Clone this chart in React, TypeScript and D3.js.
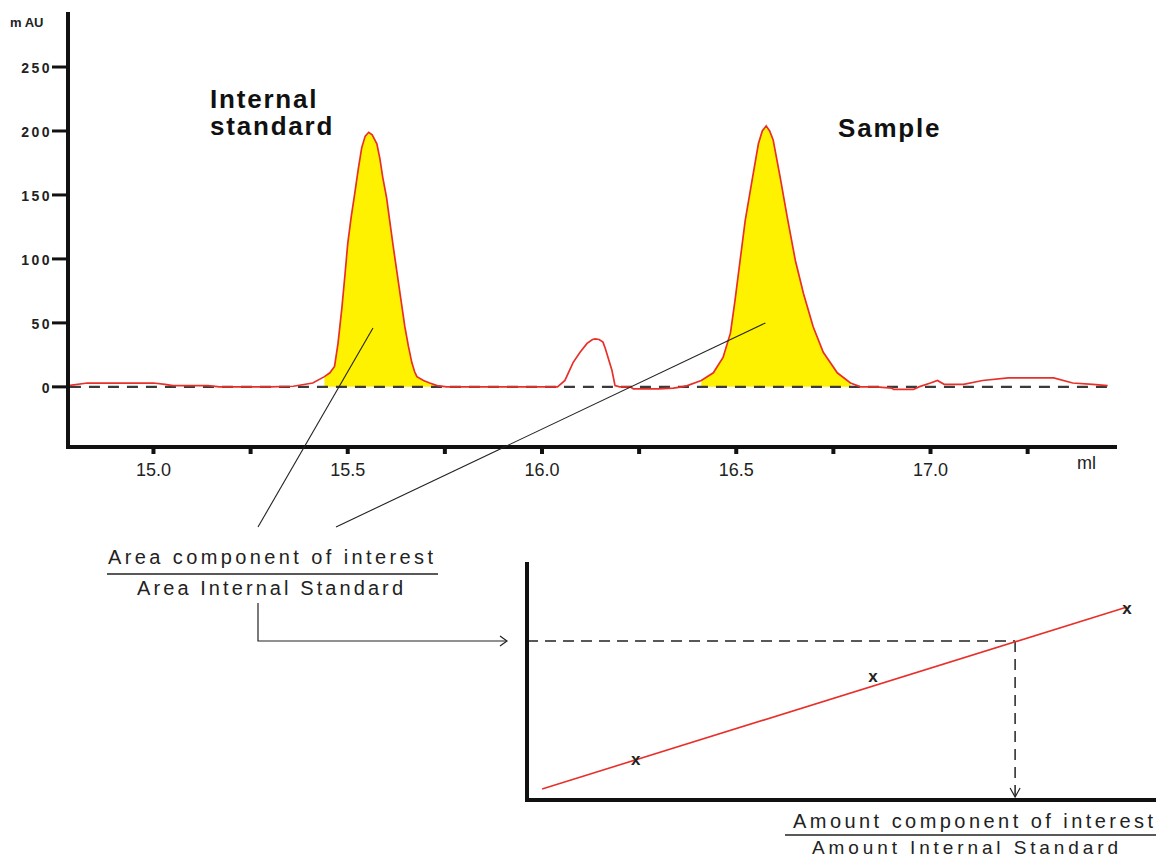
import React from "react";
import * as d3 from "d3";

// ---- Chromatogram data (retention volume in ml, absorbance in mAU) ----
const volume: number[] = [
  14.78, 14.83, 14.9, 15.0, 15.03, 15.05, 15.14, 15.17, 15.3, 15.36, 15.41, 15.44, 15.454, 15.466, 15.475,
  15.485, 15.493, 15.5, 15.509, 15.518, 15.527, 15.536, 15.545, 15.554, 15.563, 15.575, 15.583, 15.59, 15.6,
  15.608, 15.617, 15.626, 15.637, 15.647, 15.656, 15.665, 15.672, 15.678, 15.695, 15.711, 15.73, 15.755, 15.85,
  15.95, 16.04, 16.059, 16.08, 16.098, 16.116, 16.13, 16.137, 16.147, 16.157, 16.163, 16.17, 16.18, 16.188,
  16.2, 16.227, 16.235, 16.3, 16.338, 16.36, 16.374, 16.41, 16.441, 16.466, 16.485, 16.497, 16.51, 16.523,
  16.541, 16.557, 16.567, 16.577, 16.586, 16.595, 16.613, 16.631, 16.652, 16.673, 16.698, 16.724, 16.76,
  16.794, 16.82, 16.86, 16.9, 16.905, 16.956, 16.97, 17.0, 17.018, 17.035, 17.085, 17.134, 17.2, 17.317,
  17.366, 17.418, 17.456,
];
const absorbance: number[] = [
  1, 3, 3, 3, 2, 1, 1, 0, 0, 0.5, 3, 8, 11, 16, 34,
  62, 88, 112, 133, 151, 170, 187, 196, 199, 197, 190, 178, 164, 148,
  130, 110, 91, 68, 47, 32, 19, 12, 8, 5, 3, 1, 0, 0,
  0, 0, 5, 19, 27, 34, 37, 37.5, 37, 35, 30, 23, 13, 1,
  0, 0, -1.5, -1.5, -1, 0, 1, 5, 11, 23, 42, 68, 99, 130,
  162, 190, 200, 204, 200, 193, 164, 133, 99, 73, 47, 27, 11,
  3, 0, 0, -1, -2, -2, 0, 3, 5, 2, 2, 5, 7, 7,
  3, 2, 1,
];

// integrated (yellow) peak windows [start, end] in ml
const peakWindows: [number, number][] = [
  [15.43, 15.74],
  [16.38, 16.8],
];

const yTicks: number[] = [0, 50, 100, 150, 200, 250];
const xMinorTicks: number[] = [15.0, 15.25, 15.5, 15.75, 16.0, 16.25, 16.5, 16.75, 17.0, 17.25];
const xLabelTicks: number[] = [15.0, 15.5, 16.0, 16.5, 17.0];

// ---- Calibration data (ratio amount vs ratio area) ----
const calAmount: number[] = [1.73, 5.5, 9.54];
const calArea: number[] = [1.67, 5.13, 7.96];
const fitAmount: number[] = [0.24, 9.54];
const fitArea: number[] = [0.46, 8.04];
const unknownAmount = 7.76;
const unknownArea = 6.63;

const FONT = "'Liberation Sans', Arial, Helvetica, sans-serif";

export default function App() {
  const x = d3.scaleLinear().domain([14.78, 17.48]).range([68, 1117]);
  const y = d3.scaleLinear().domain([-47, 293]).range([447, 12]);

  const pts = volume.map((v, i) => [v, absorbance[i]] as [number, number]);
  const line = d3
    .line<[number, number]>()
    .x((d) => x(d[0]))
    .y((d) => y(d[1]));
  const area = d3
    .area<[number, number]>()
    .x((d) => x(d[0]))
    .y0(y(0))
    .y1((d) => y(Math.max(0, d[1])));

  const cx = d3.scaleLinear().domain([0, 10]).range([527, 1156]);
  const cy = d3.scaleLinear().domain([0, 10]).range([800, 560]);

  const ux = cx(unknownAmount);
  const uy = cy(unknownArea);

  return (
    <svg
      width={1156}
      height={859}
      style={{ position: "absolute", left: 0, top: 0, background: "#fff" }}
      fontFamily={FONT}
    >
      <rect x={0} y={0} width={1156} height={859} fill="#fff" />

      {/* yellow integrated areas */}
      {peakWindows.map(([a, b], i) => (
        <path
          key={"fill" + i}
          d={area(pts.filter((p) => p[0] >= a && p[0] <= b)) || ""}
          fill="#fff200"
        />
      ))}

      {/* dashed baseline */}
      <line
        x1={x(14.785)}
        x2={x(17.456)}
        y1={y(0)}
        y2={y(0)}
        stroke="#3a3a3a"
        strokeWidth={2.2}
        strokeDasharray="11,8"
      />

      {/* chromatogram trace */}
      <path d={line(pts) || ""} fill="none" stroke="#e8302a" strokeWidth={1.7} />

      {/* axes */}
      <line x1={68} x2={68} y1={12} y2={449} stroke="#111" strokeWidth={4} />
      <line x1={66} x2={1117} y1={447} y2={447} stroke="#111" strokeWidth={4} />

      {yTicks.map((t) => (
        <g key={"yt" + t}>
          <line x1={52} x2={68} y1={y(t)} y2={y(t)} stroke="#111" strokeWidth={3} />
          <text
            x={52}
            y={y(t) + 6}
            textAnchor="end"
            fontSize={14}
            fontWeight="bold"
            letterSpacing={2.5}
            fill="#222"
          >
            {t}
          </text>
        </g>
      ))}
      <text x={10} y={27} fontSize={13} fontWeight="bold" fill="#222">
        m AU
      </text>

      {xMinorTicks.map((t) => (
        <line key={"xt" + t} x1={x(t)} x2={x(t)} y1={447} y2={454} stroke="#111" strokeWidth={4} />
      ))}
      {xLabelTicks.map((t) => (
        <text key={"xl" + t} x={x(t)} y={476} textAnchor="middle" fontSize={18} fill="#222">
          {t.toFixed(1)}
        </text>
      ))}
      <text x={1077} y={469} fontSize={18} fill="#222">
        ml
      </text>

      {/* peak titles */}
      <text x={210} y={108} fontSize={26} fontWeight="bold" letterSpacing={1.8} fill="#111">
        Internal
      </text>
      <text x={210} y={135} fontSize={26} fontWeight="bold" letterSpacing={1.8} fill="#111">
        standard
      </text>
      <text x={838} y={137} fontSize={26} fontWeight="bold" letterSpacing={1.8} fill="#111">
        Sample
      </text>

      {/* annotation lines from peaks to ratio */}
      <line x1={x(15.565)} y1={y(46)} x2={258} y2={527} stroke="#222" strokeWidth={1.1} />
      <line x1={x(16.575)} y1={y(50)} x2={336} y2={527} stroke="#222" strokeWidth={1.1} />

      {/* area ratio */}
      <text x={108} y={564} fontSize={20} textLength={325} lengthAdjust="spacing" fill="#222">
        Area component of interest
      </text>
      <line x1={107} x2={438} y1={574} y2={574} stroke="#222" strokeWidth={1.5} />
      <text x={137} y={595} fontSize={20} textLength={266} lengthAdjust="spacing" fill="#222">
        Area Internal Standard
      </text>

      {/* connector arrow */}
      <polyline points={`258,603 258,641 507,641`} fill="none" stroke="#222" strokeWidth={1.2} />
      <polyline points={`500,636 507,641 500,646`} fill="none" stroke="#222" strokeWidth={1.2} />

      {/* calibration plot */}
      <line
        x1={cx(0)}
        x2={ux}
        y1={uy}
        y2={uy}
        stroke="#222"
        strokeWidth={1.5}
        strokeDasharray="11,7"
      />
      <line
        x1={ux}
        x2={ux}
        y1={uy}
        y2={cy(0) - 4}
        stroke="#222"
        strokeWidth={1.5}
        strokeDasharray="11,7"
      />
      <polyline
        points={`${ux - 5},${cy(0) - 12} ${ux},${cy(0) - 3} ${ux + 5},${cy(0) - 12}`}
        fill="none"
        stroke="#222"
        strokeWidth={1.2}
      />
      <line
        x1={cx(fitAmount[0])}
        y1={cy(fitArea[0])}
        x2={cx(fitAmount[1])}
        y2={cy(fitArea[1])}
        stroke="#e8302a"
        strokeWidth={1.6}
      />
      {calAmount.map((a, i) => (
        <text
          key={"m" + i}
          x={cx(a)}
          y={cy(calArea[i])}
          textAnchor="middle"
          dominantBaseline="central"
          fontSize={17}
          fontWeight="bold"
          fill="#222"
        >
          x
        </text>
      ))}
      <line x1={527} x2={527} y1={562} y2={802} stroke="#111" strokeWidth={4} />
      <line x1={525} x2={1156} y1={800} y2={800} stroke="#111" strokeWidth={4} />

      <text x={793} y={828} fontSize={20} textLength={360} lengthAdjust="spacing" fill="#222">
        Amount component of interest
      </text>
      <line x1={785} x2={1156} y1={835} y2={835} stroke="#222" strokeWidth={1.5} />
      <text x={812} y={854} fontSize={19} textLength={306} lengthAdjust="spacing" fill="#222">
        Amount Internal Standard
      </text>
    </svg>
  );
}
